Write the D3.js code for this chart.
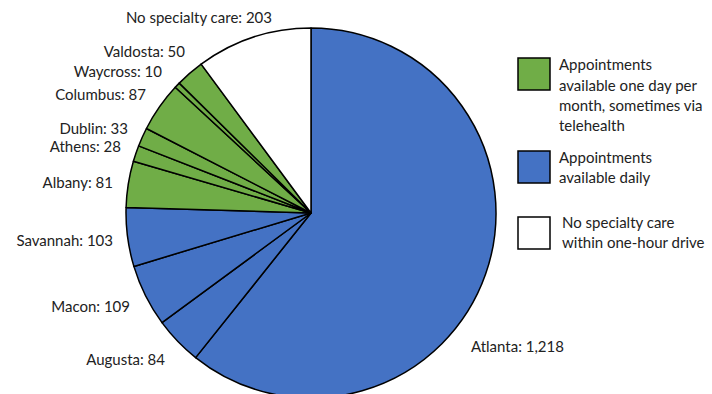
<!DOCTYPE html>
<html lang="en">
<head>
<meta charset="utf-8">
<title>Specialty care access</title>
<script src="https://d3js.org/d3.v7.min.js"></script>
<style>
  body { margin: 0; background: #fff; }
  svg { display: block; font-family: Lato, "Open Sans", sans-serif; }
</style>
</head>
<body>
<div id="chart"></div>
<script>
// data, clockwise from 12 o'clock
var cities = ["Atlanta", "Augusta", "Macon", "Savannah", "Albany", "Athens", "Dublin", "Columbus", "Waycross", "Valdosta", "No specialty care"]
var counts = [1218, 84, 109, 103, 81, 28, 33, 87, 10, 50, 203]
var groups = ["daily", "daily", "daily", "daily", "monthly", "monthly", "monthly", "monthly", "monthly", "monthly", "none"]

var legendKeys = ["monthly", "daily", "none"]
var legendText = [
  ["Appointments", "available one day per", "month, sometimes via", "telehealth"],
  ["Appointments", "available daily"],
  ["No specialty care", "within one-hour drive"]
]

// label placement (hand positioned like the original), anchor point of each label
var labelAt = [[471, 347, "start"], [165, 360, "end"], [130, 307, "end"], [113, 241, "end"],
               [113, 183, "end"], [121, 147, "end"], [128, 129, "end"], [146, 95, "end"],
               [162, 72, "end"], [185, 52, "end"], [272, 18, "end"]]

var W = 712, H = 394
var cx = 311, cy = 213, r = 185

var color = d3.scaleOrdinal()
  .domain(["daily", "monthly", "none"])
  .range(["#4472C4", "#70AD47", "#ffffff"])

var svg = d3.select("#chart").append("svg")
  .attr("width", W).attr("height", H)

var rows = cities.map(function(c, i){ return {name: c, value: counts[i], group: groups[i]} })

var pie = d3.pie().sort(null).value(function(d){ return d.value })
var arc = d3.arc().innerRadius(0).outerRadius(r)

var g = svg.append("g").attr("transform", "translate(" + cx + "," + cy + ")")
g.selectAll("path")
  .data(pie(rows))
  .enter().append("path")
  .attr("d", arc)
  .attr("fill", function(d){ return color(d.data.group) })
  .attr("stroke", "#000")
  .attr("stroke-width", 1.5)
  .attr("stroke-linejoin", "round")

var fmt = d3.format(",")
svg.selectAll("text.lbl")
  .data(rows)
  .enter().append("text")
  .attr("class", "lbl")
  .attr("x", function(d, i){ return labelAt[i][0] })
  .attr("y", function(d, i){ return labelAt[i][1] })
  .attr("dy", "0.35em")
  .attr("text-anchor", function(d, i){ return labelAt[i][2] })
  .attr("font-size", "15px")
  .attr("fill", "#222")
  .text(function(d){ return d.name + ": " + fmt(d.value) })

// legend
var boxY = [58, 151, 217]
var lineY = [[65, 86, 106, 126], [158, 178], [223, 243]]
var lg = svg.append("g")
legendKeys.forEach(function(k, i){
  lg.append("rect")
    .attr("x", 518).attr("y", boxY[i])
    .attr("width", 32).attr("height", 32)
    .attr("fill", color(k))
    .attr("stroke", "#000").attr("stroke-width", 1.5)
  legendText[i].forEach(function(t, j){
    lg.append("text")
      .attr("x", i == 2 ? 562 : 559)
      .attr("y", lineY[i][j])
      .attr("dy", "0.35em")
      .attr("font-size", "15px")
      .attr("fill", "#222")
      .text(t)
  })
})
</script>
</body>
</html>
